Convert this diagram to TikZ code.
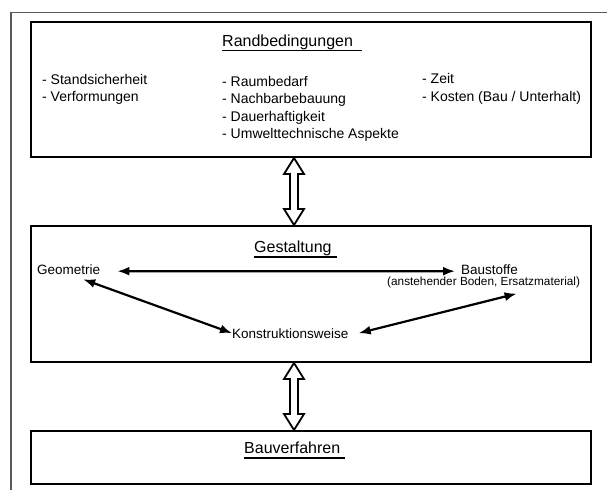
\documentclass[tikz,border=0pt]{standalone}
\usepackage{fontspec}
\setmainfont{Liberation Sans}
\usetikzlibrary{calc,arrows.meta}
\begin{document}
\begin{tikzpicture}[x=1pt,y=-1pt,
 box/.style={draw=black,line width=2pt,minimum width=560pt,inner sep=0pt,fill=white},
 ttl/.style={font=\fontsize{16}{19}\selectfont,inner sep=0pt,anchor=base west},
 itm/.style={font=\fontsize{14}{17}\selectfont,inner sep=0pt,anchor=base west},
 lbl/.style={font=\fontsize{13.5}{16}\selectfont,inner sep=0pt,anchor=base west},
 sml/.style={font=\fontsize{11.8}{14}\selectfont,inner sep=0pt,anchor=base west},
 ul/.style={line width=1.6pt},
 hollow/.style={draw=black,line width=1.8pt,fill=white,line join=miter},
 dbl/.style={line width=2.2pt,{Latex[length=12pt,width=9pt]}-{Latex[length=12pt,width=9pt]}},
]
\useasboundingbox (0,0) rectangle (607,490);
\draw[line width=1.3pt,draw=black!65] (11,490) -- (11,12.5) -- (607,12.5);

% boxes
\node[box,minimum height=135pt] (b1) at (311,89.5) {};
\node[box,minimum height=136pt] (b2) at (311,294) {};
\node[box,minimum height=53pt] (b3) at (311,457.5) {};

% titles
\node[ttl] (t1) at (222,46) {Randbedingungen};
\draw[ul] ($(t1.base west)+(0,4.5)$) -- ++(140,0);
\node[ttl] (t2) at (254,252.5) {Gestaltung};
\draw[ul] ($(t2.base west)+(0,4.5)$) -- ++(83,0);
\node[ttl] (t3) at (244,453.5) {Bauverfahren};
\draw[ul] ($(t3.base west)+(0,4.5)$) -- ++(101,0);

% Randbedingungen items
\node[itm] (l1) at (42,84) {- Standsicherheit};
\node[itm] (l2) at (42,101.5) {- Verformungen};
\node[itm] (m1) at (222,86) {- Raumbedarf};
\node[itm] (m2) at (222,103.5) {- Nachbarbebauung};
\node[itm] (m3) at (222,121) {- Dauerhaftigkeit};
\node[itm] (m4) at (222,138.5) {- Umwelttechnische Aspekte};
\node[itm] (r1) at (422,83.5) {- Zeit};
\node[itm] (r2) at (422,101) {- Kosten (Bau / Unterhalt)};

% Gestaltung content
\node[lbl] (geo) at (37,274) {Geometrie};
\node[lbl] (bau) at (461,274) {Baustoffe};
\node[sml] (sub) at (387,285) {(anstehender Boden, Ersatzmaterial)};
\node[lbl] (kon) at (232,338) {Konstruktionsweise};

\draw[dbl] ($(geo.east)+(17,2)$) -- ($(bau.west)+(-6,2)$);
\draw[dbl] ($(geo.south)+(14.5,5)$) -- (kon.west);
\draw[dbl] ($(kon.east)+(10,0)$) -- ($(sub.south)+(33,6)$);

% hollow double arrows
\coordinate (a1t) at ($(b1.south)+(-17,0)$);
\coordinate (a1b) at ($(b2.north)+(-17,0)$);
\coordinate (a2t) at ($(b2.south)+(-17,0)$);
\coordinate (a2b) at ($(b3.north)+(-17,0)$);
\draw[hollow] (a1t) -- ++(10,16) -- ++(-6,0) -- ($(a1b)+(4,-16)$) -- ++(6,0) -- (a1b)
  -- ++(-10,-16) -- ++(6,0) -- ($(a1t)+(-4,16)$) -- ++(-6,0) -- cycle;
\draw[hollow] (a2t) -- ++(10,16) -- ++(-6,0) -- ($(a2b)+(4,-16)$) -- ++(6,0) -- (a2b)
  -- ++(-10,-16) -- ++(6,0) -- ($(a2t)+(-4,16)$) -- ++(-6,0) -- cycle;
\end{tikzpicture}
\end{document}
